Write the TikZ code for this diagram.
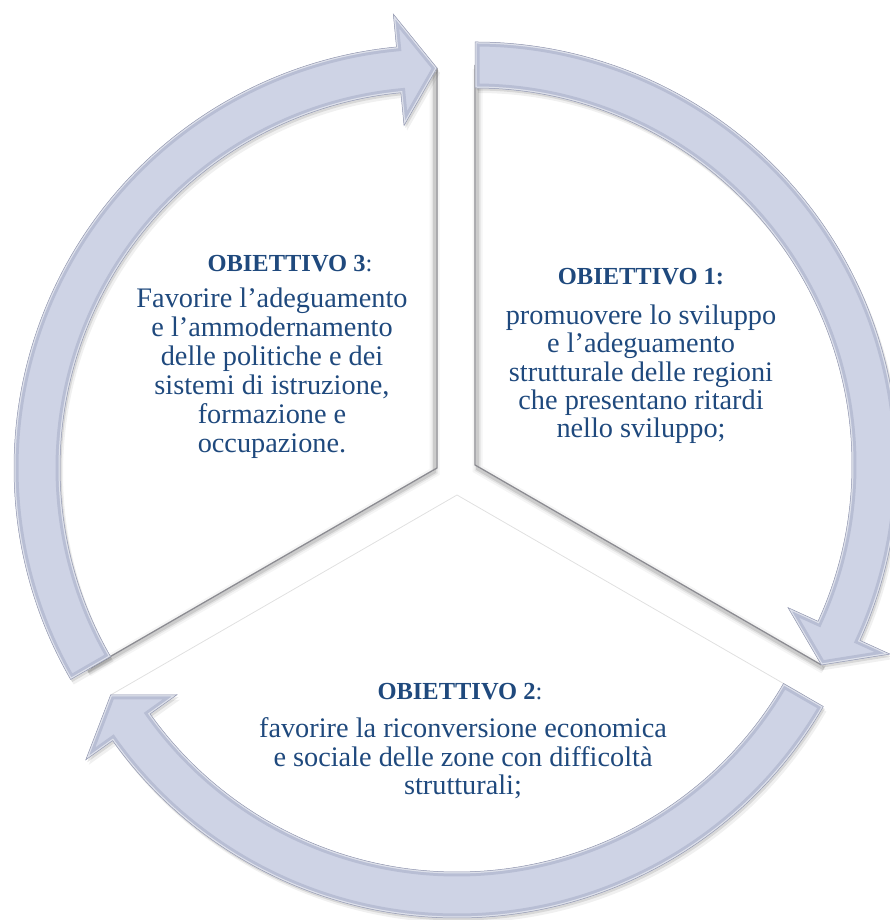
\documentclass[tikz,border=0pt]{standalone}
\usepackage{fontspec}
\setmainfont{Liberation Serif}
\usetikzlibrary{calc}
\definecolor{txt}{RGB}{31,73,125}
\definecolor{arrface}{RGB}{206,211,229}
\definecolor{arrbevel}{RGB}{184,190,212}
\definecolor{arredge}{RGB}{150,155,178}
\definecolor{edgegray}{RGB}{140,140,146}
\newcommand\ringarrow[3]{($(#1)+(#2:423)$) arc[start angle=#2, end angle={#3+5.5}, radius=423pt]
  -- ($(#1)+(#3+5.5:456)$) -- ($(#1)+(#3:400)$) -- ($(#1)+(#3+5.5:344)$)
  -- ($(#1)+(#3+5.5:377)$) arc[start angle={#3+5.5}, end angle=#2, radius=377pt] -- cycle}
\newcommand\drawringarrow[3]{%
  \fill[black, opacity=0.06, transform canvas={shift={(3,-5)}}] \ringarrow{#1}{#2}{#3};
  \fill[black, opacity=0.10, transform canvas={shift={(1.5,-2.5)}}] \ringarrow{#1}{#2}{#3};
  \fill[arrface] \ringarrow{#1}{#2}{#3};
  \begin{scope}
    \clip \ringarrow{#1}{#2}{#3};
    \draw[arrbevel, line width=9pt] \ringarrow{#1}{#2}{#3};
    \draw[white, opacity=0.55, line width=3pt] \ringarrow{#1}{#2}{#3};
  \end{scope}
  \draw[arredge, line width=0.5pt] \ringarrow{#1}{#2}{#3};
}
\tikzset{
  head/.style={anchor=base, text=txt, inner sep=0pt, font=\fontsize{24.5}{26}\selectfont\bfseries},
  body/.style={anchor=base, text=txt, inner sep=0pt, font=\fontsize{28.3}{29}\selectfont},
  sectoredge/.style={edgegray, line width=1.3pt, line join=miter},
  edgeshadow/.style={black, line join=miter},
  faintedge/.style={black!12, line width=0.8pt}
}
\begin{document}
\begin{tikzpicture}[x=1pt,y=1pt]
\useasboundingbox (0,0) rectangle (889,920);
\coordinate (c1) at (475,455);
\coordinate (c2) at (457,425);
\coordinate (c3) at (437,452);
% bottom sector: faint edges
\draw[faintedge] ($(c2)+(210:400)$) -- (c2) -- ($(c2)+(330:400)$);
% shadows of the top sectors' edges
\foreach \w/\o in {10/0.04, 6/0.07, 3/0.11} {
  \draw[edgeshadow, line width=\w pt, opacity=\o, transform canvas={shift={(2.5,-4)}}]
    ($(c1)+(90:400)$) -- (c1) -- ($(c1)+(-30:400)$);
  \draw[edgeshadow, line width=\w pt, opacity=\o, transform canvas={shift={(-2.5,-4)}}]
    ($(c3)+(90:400)$) -- (c3) -- ($(c3)+(210:400)$);
}
\draw[sectoredge] ($(c1)+(90:400)$) -- (c1) -- ($(c1)+(-30:400)$);
\draw[sectoredge] ($(c3)+(90:400)$) -- (c3) -- ($(c3)+(210:400)$);
% ring arrows
\drawringarrow{c2}{330}{210}
\drawringarrow{c3}{210}{90}
\drawringarrow{c1}{90}{-30}
% texts: objective 3
\node[head] (h3) at (290,648) {OBIETTIVO 3\mdseries:};
\node[body] (b3a) at (272,612) {Favorire l’adeguamento};
\node[body] (b3b) at (272,583) {e l’ammodernamento};
\node[body] (b3c) at (272,554) {delle politiche e dei};
\node[body] (b3d) at (272,525) {sistemi di istruzione,};
\node[body] (b3e) at (272,496) {formazione e};
\node[body] (b3f) at (272,467) {occupazione.};
% objective 1
\node[head] (h1) at (641,635) {OBIETTIVO 1:};
\node[body] (b1a) at (641,595) {promuovere lo sviluppo};
\node[body] (b1b) at (641,567) {e l’adeguamento};
\node[body] (b1c) at (641,538) {strutturale delle regioni};
\node[body] (b1d) at (641,510) {che presentano ritardi};
\node[body] (b1e) at (641,482) {nello sviluppo;};
% objective 2
\node[head] (h2) at (460,220) {OBIETTIVO 2\mdseries:};
\node[body] (b2a) at (463,182) {favorire la riconversione economica};
\node[body] (b2b) at (463,153) {e sociale delle zone con difficoltà};
\node[body] (b2c) at (463,125) {strutturali;};
\end{tikzpicture}
\end{document}
